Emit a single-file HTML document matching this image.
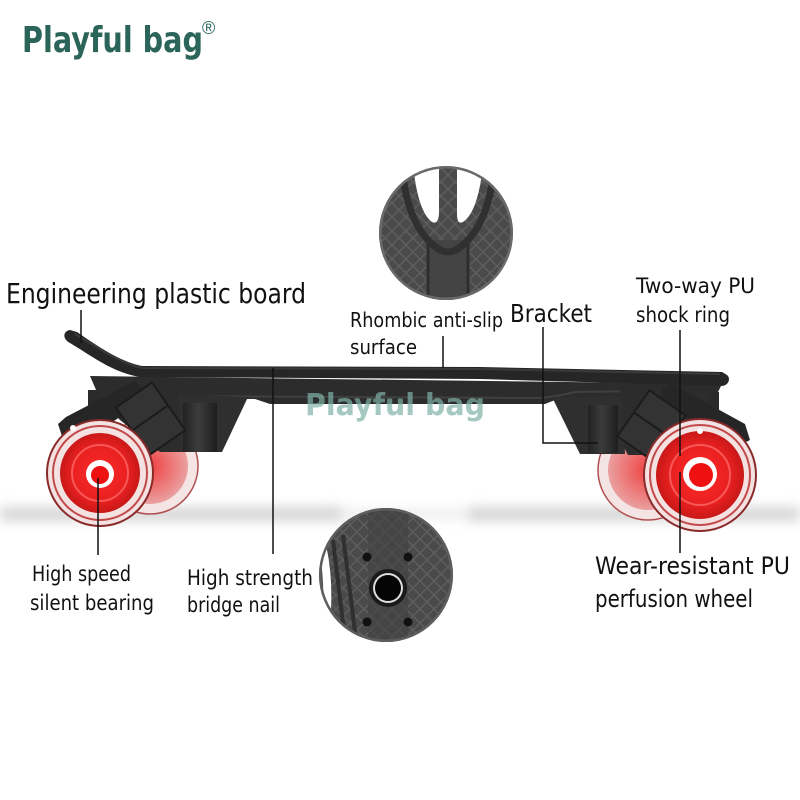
<!DOCTYPE html>
<html><head><meta charset="utf-8"><style>
html,body{margin:0;padding:0;background:#fff;width:800px;height:800px;overflow:hidden}
svg{display:block}
.lb{font-family:"DejaVu Sans","Liberation Sans",sans-serif;fill:#111}
</style></head><body>
<svg width="800" height="800" viewBox="0 0 800 800" xmlns="http://www.w3.org/2000/svg">
<defs>
<pattern id="rh" width="14" height="14" patternUnits="userSpaceOnUse">
<rect width="14" height="14" fill="#4a4a4a"/>
<path d="M0,7 L7,0 L14,7 L7,14 Z" fill="none" stroke="#5e5e5e" stroke-width="1.4"/>
</pattern>
<radialGradient id="red" cx="50%" cy="50%" r="50%">
<stop offset="0" stop-color="#ff2a2a"/><stop offset="0.7" stop-color="#e82020"/><stop offset="1" stop-color="#c81818"/>
</radialGradient>
<radialGradient id="redb" cx="50%" cy="50%" r="50%">
<stop offset="0" stop-color="#f04040"/><stop offset="1" stop-color="#eaa0a0"/>
</radialGradient>
<linearGradient id="cyl" x1="0" x2="1" y1="0" y2="0">
<stop offset="0" stop-color="#222"/><stop offset="0.45" stop-color="#3c3c3c"/><stop offset="1" stop-color="#1e1e1e"/>
</linearGradient>
<filter id="blur" x="-20%" y="-300%" width="140%" height="700%"><feGaussianBlur stdDeviation="6"/></filter>
<clipPath id="c1"><circle cx="446" cy="233" r="67"/></clipPath>
<clipPath id="c2"><circle cx="386" cy="575" r="67"/></clipPath>
</defs>

<!-- logo -->
<text x="22" y="52" font-family="'DejaVu Sans','Liberation Sans',sans-serif" font-weight="bold" font-size="36" fill="#2b6458" textLength="181" lengthAdjust="spacingAndGlyphs">Playful bag</text>
<text x="202" y="34" font-family="'Liberation Sans',sans-serif" font-size="18" fill="#2b6458">®</text>

<!-- shadow -->
<rect x="0" y="508" width="340" height="12" fill="#a8a8a8" filter="url(#blur)" opacity="0.55"/>
<rect x="470" y="508" width="330" height="12" fill="#a8a8a8" filter="url(#blur)" opacity="0.55"/>
<rect x="330" y="510" width="150" height="8" fill="#d0d0d0" filter="url(#blur)" opacity="0.5"/>

<!-- top circle -->
<g clip-path="url(#c1)">
<rect x="370" y="160" width="160" height="150" fill="url(#rh)"/>
<rect x="428" y="240" width="40" height="70" fill="#444"/>
<path d="M428,240 L428,310 M468,240 L468,310" stroke="#2e2e2e" stroke-width="3"/>
<path d="M402,168 Q408,230 440,250 Q448,254 456,250 Q488,230 494,168" fill="none" stroke="#303030" stroke-width="7"/>
<path d="M413,165 Q418,212 432,222 Q438,225 439,214 L439,165 Z" fill="#fff"/>
<path d="M483,165 Q478,212 463,222 Q457,225 457,214 L457,165 Z" fill="#fff"/>
<circle cx="446" cy="233" r="66" fill="none" stroke="#6a6a6a" stroke-width="3"/>
</g>

<!-- back wheels -->
<g>
<circle cx="150" cy="466" r="48" fill="#f4e4e4" stroke="#b05050" stroke-width="1.5"/>
<circle cx="150" cy="466" r="38" fill="url(#redb)"/>
<circle cx="648" cy="470" r="50" fill="#f4e4e4" stroke="#b05050" stroke-width="1.5"/>
<circle cx="648" cy="470" r="40" fill="url(#redb)"/>
</g>

<!-- deck -->
<path d="M90,376 L722,384 L716,396 L560,398 L545,404 L270,404 L255,399 L100,399 Z" fill="#2c2c2c"/>
<path d="M110,384 Q130,396 170,396 L540,398 Q560,396 575,392 L712,390" fill="none" stroke="#404040" stroke-width="2"/>
<path d="M70,330 C63,331 62,339 70,343 C95,358 112,372 140,377 L480,379 L721,386 C729,386 731,378 727,375 L722,372 L480,367 L142,366 C118,361 96,345 77,332 Z" fill="#262626"/>
<path d="M75,334 C97,347 118,362 142,368 L480,369 L720,374" fill="none" stroke="#3a3a3a" stroke-width="2"/>

<!-- left truck -->
<rect x="88" y="390" width="22" height="18" fill="#2a2a2a"/>
<polygon points="100,377 180,380 180,452 160,452 120,420 100,400" fill="#2c2c2c"/>
<polygon points="178,394 248,397 222,452 180,452" fill="#2f2f2f"/>
<rect x="183" y="403" width="34" height="49" fill="url(#cyl)"/>
<polygon points="58,424 66,417 135,381 150,396 78,446 64,442" fill="#262626"/>
<g transform="rotate(-35 150 418)"><rect x="128" y="390" width="44" height="58" fill="#333" stroke="#1c1c1c" stroke-width="2"/><line x1="128" y1="418" x2="172" y2="418" stroke="#1c1c1c" stroke-width="2"/></g>

<!-- right truck -->
<rect x="700" y="392" width="19" height="20" fill="#2a2a2a"/>
<polygon points="620,383 715,386 700,420 665,455 628,455 620,440" fill="#2c2c2c"/>
<polygon points="552,397 622,396 625,454 580,454" fill="#2f2f2f"/>
<rect x="588" y="405" width="30" height="48" fill="url(#cyl)"/>
<polygon points="662,388 672,384 745,424 750,440 738,446 660,404" fill="#262626"/>
<g transform="rotate(35 652 425)"><rect x="630" y="398" width="44" height="56" fill="#333" stroke="#1c1c1c" stroke-width="2"/><line x1="630" y1="425" x2="674" y2="425" stroke="#1c1c1c" stroke-width="2"/></g>

<!-- watermark -->
<text x="305" y="415" font-family="'DejaVu Sans','Liberation Sans',sans-serif" font-weight="bold" font-size="30" fill="#7fb3a6" opacity="0.7" textLength="180" lengthAdjust="spacingAndGlyphs">Playful bag</text>

<!-- front wheels -->
<g>
<circle cx="100" cy="473" r="53" fill="#f4e2e2" stroke="#8a2a2a" stroke-width="2"/>
<circle cx="100" cy="473" r="47" fill="none" stroke="#c24a4a" stroke-width="2"/>
<circle cx="100" cy="473" r="40" fill="url(#red)"/>
<circle cx="100" cy="473" r="28" fill="none" stroke="#ff7070" stroke-width="2" opacity="0.7"/>
<circle cx="100" cy="474" r="14" fill="#fff"/>
<circle cx="100" cy="475" r="9" fill="#ee1111"/>
<circle cx="73" cy="428" r="3" fill="#fff"/>

<circle cx="700" cy="475" r="56" fill="#f4e2e2" stroke="#8a2a2a" stroke-width="2"/>
<circle cx="700" cy="475" r="50" fill="none" stroke="#c24a4a" stroke-width="2"/>
<circle cx="700" cy="475" r="44" fill="url(#red)"/>
<circle cx="700" cy="475" r="30" fill="none" stroke="#ff7070" stroke-width="2" opacity="0.7"/>
<circle cx="700" cy="474" r="17" fill="#fff"/>
<circle cx="701" cy="475" r="12" fill="#ee1111"/>
<circle cx="700" cy="431" r="3" fill="#fff"/>
</g>

<!-- bottom circle -->
<g clip-path="url(#c2)">
<rect x="310" y="500" width="160" height="150" fill="url(#rh)"/>
<path d="M318,545 Q326,580 322,625 L330,625 Q334,580 326,545 Z" fill="#fff"/>
<path d="M333,540 L345,640 M343,535 L356,640" stroke="#303030" stroke-width="4"/>
<rect x="368" y="505" width="40" height="140" fill="#424242" opacity="0.6"/>
<circle cx="386" cy="575" r="66" fill="none" stroke="#5e5e5e" stroke-width="3"/>
</g>
<circle cx="367" cy="557" r="4.5" fill="#111"/>
<circle cx="408" cy="557" r="4.5" fill="#111"/>
<circle cx="367" cy="622" r="4.5" fill="#111"/>
<circle cx="408" cy="622" r="4.5" fill="#111"/>
<circle cx="388" cy="588" r="19" fill="#1a1a1a"/>
<circle cx="388" cy="588" r="15" fill="#ddd"/>
<circle cx="388" cy="588" r="13" fill="#050505"/>

<!-- leader lines -->
<g stroke="#111" stroke-width="1.5" fill="none">
<line x1="81" y1="310" x2="81" y2="343"/>
<line x1="443" y1="336" x2="443" y2="368"/>
<polyline points="543,327 543,443 598,443"/>
<line x1="680" y1="330" x2="680" y2="456"/>
<line x1="273" y1="368" x2="273" y2="554"/>
<line x1="98" y1="478" x2="98" y2="555"/>
<line x1="680" y1="472" x2="680" y2="553"/>
</g>

<!-- labels -->
<text class="lb" x="6" y="303" font-size="28" textLength="300" lengthAdjust="spacingAndGlyphs">Engineering plastic board</text>
<text class="lb" x="350" y="327" font-size="20" textLength="153" lengthAdjust="spacingAndGlyphs">Rhombic anti-slip</text>
<text class="lb" x="350" y="354" font-size="20" textLength="67" lengthAdjust="spacingAndGlyphs">surface</text>
<text class="lb" x="510" y="322" font-size="25" textLength="82" lengthAdjust="spacingAndGlyphs">Bracket</text>
<text class="lb" x="636" y="293" font-size="21" textLength="119" lengthAdjust="spacingAndGlyphs">Two-way PU</text>
<text class="lb" x="636" y="322" font-size="21" textLength="94" lengthAdjust="spacingAndGlyphs">shock ring</text>
<text class="lb" x="32" y="581" font-size="21" textLength="99" lengthAdjust="spacingAndGlyphs">High speed</text>
<text class="lb" x="30" y="610" font-size="21" textLength="124" lengthAdjust="spacingAndGlyphs">silent bearing</text>
<text class="lb" x="187" y="585" font-size="21" textLength="126" lengthAdjust="spacingAndGlyphs">High strength</text>
<text class="lb" x="187" y="612" font-size="21" textLength="93" lengthAdjust="spacingAndGlyphs">bridge nail</text>
<text class="lb" x="595" y="574" font-size="24" textLength="195" lengthAdjust="spacingAndGlyphs">Wear-resistant PU</text>
<text class="lb" x="595" y="607" font-size="24" textLength="158" lengthAdjust="spacingAndGlyphs">perfusion wheel</text>
</svg>
</body></html>
